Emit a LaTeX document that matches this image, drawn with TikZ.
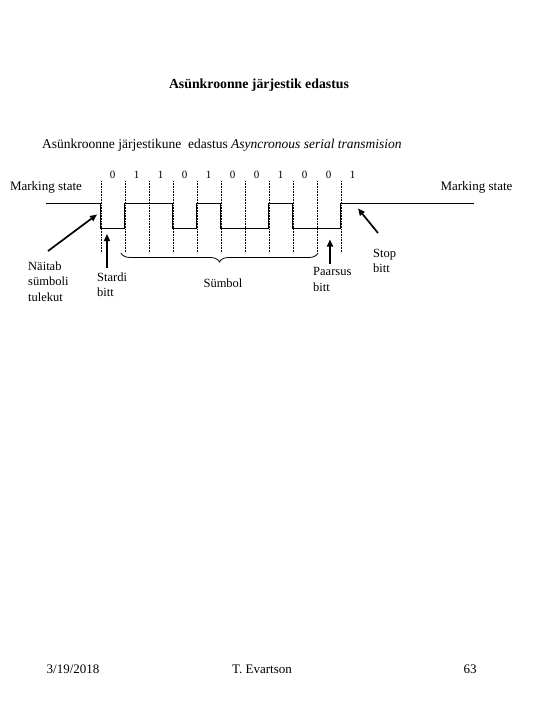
\documentclass[tikz,border=0pt]{standalone}
\usepackage{fontspec}
\setmainfont{Liberation Serif}
\usetikzlibrary{arrows.meta,decorations.pathreplacing}
\begin{document}
\begin{tikzpicture}[x=1pt,y=-1pt,
  txt/.style={font=\fontsize{13}{15.5}\selectfont, inner sep=0pt},
  lbl/.style={font=\fontsize{12.5}{15.5}\selectfont, inner sep=0pt, align=left, anchor=west},
  digit/.style={font=\fontsize{11}{12}\selectfont, inner sep=0pt},
  sig/.style={line width=1pt, line join=miter},
  gridline/.style={densely dotted, line width=0.6pt},
  arr/.style={line width=1.7pt, -{Triangle[length=7pt,width=6pt]}},
  bracestyle/.style={line width=0.8pt, decorate, decoration={brace, amplitude=9pt}}]
\useasboundingbox (0,0) rectangle (540,720);

% titles
\node[font=\fontsize{13.8}{16}\selectfont\bfseries, inner sep=0pt] (title) at (259,85) {Asünkroonne järjestik edastus};
\node[font=\fontsize{13.5}{16}\selectfont, inner sep=0pt, anchor=west] (sub) at (42,145) {Asünkroonne järjestikune\ \ edastus \textit{Asyncronous serial transmision}};

% bit labels
\foreach \i/\b in {0/0,1/1,2/1,3/0,4/1,5/0,6/0,7/1,8/0,9/0,10/1}
  \node[digit] (d\i) at (112.5+24*\i,175) {\b};

% dotted bit boundaries
\foreach \i in {0,...,10}
  \draw[gridline] (100.8+24*\i,181) -- (100.8+24*\i,253);

% marking state labels
\node[txt] (ml) at (46,187) {Marking state};
\node[txt] (mr) at (476.5,187) {Marking state};

% signal
\draw[sig] (46,203.5) -- (100.8,203.5) -- (100.8,228) -- (124.8,228) -- (124.8,203.5)
  -- (172.8,203.5) -- (172.8,228) -- (196.8,228) -- (196.8,203.5) -- (220.8,203.5)
  -- (220.8,228) -- (268.8,228) -- (268.8,203.5) -- (292.8,203.5) -- (292.8,228)
  -- (340.8,228) -- (340.8,203.5) -- (474,203.5);

% brace
\coordinate (bR) at (318,253);
\coordinate (bL) at (121,253);
\draw[bracestyle] (bR) -- (bL);

% labels
\node[lbl] (naitab) at (28,281.5) {Näitab\\sümboli\\tulekut};
\node[lbl] (stardi) at (97,284.5) {Stardi\\bitt};
\node[lbl, anchor=center] (symbol) at (223,283) {Sümbol};
\node[lbl] (paarsus) at (313,279.5) {Paarsus\\bitt};
\node[lbl] (stop) at (373,261) {Stop\\bitt};

% arrows
\coordinate (a1s) at (48,251);  \coordinate (a1e) at (97,214.5);
\coordinate (a2s) at (107,268); \coordinate (a2e) at (107,234);
\coordinate (a3s) at (330,264); \coordinate (a3e) at (330,239.5);
\coordinate (a4s) at (378,233); \coordinate (a4e) at (358,208.5);
\draw[arr] (a1s) -- (a1e);
\draw[arr] (a2s) -- (a2e);
\draw[arr] (a3s) -- (a3e);
\draw[arr] (a4s) -- (a4e);

% footer
\node[txt] (date) at (73,669) {3/19/2018};
\node[txt] (author) at (262,669) {T. Evartson};
\node[txt] (page) at (470,669) {63};
\end{tikzpicture}
\end{document}
